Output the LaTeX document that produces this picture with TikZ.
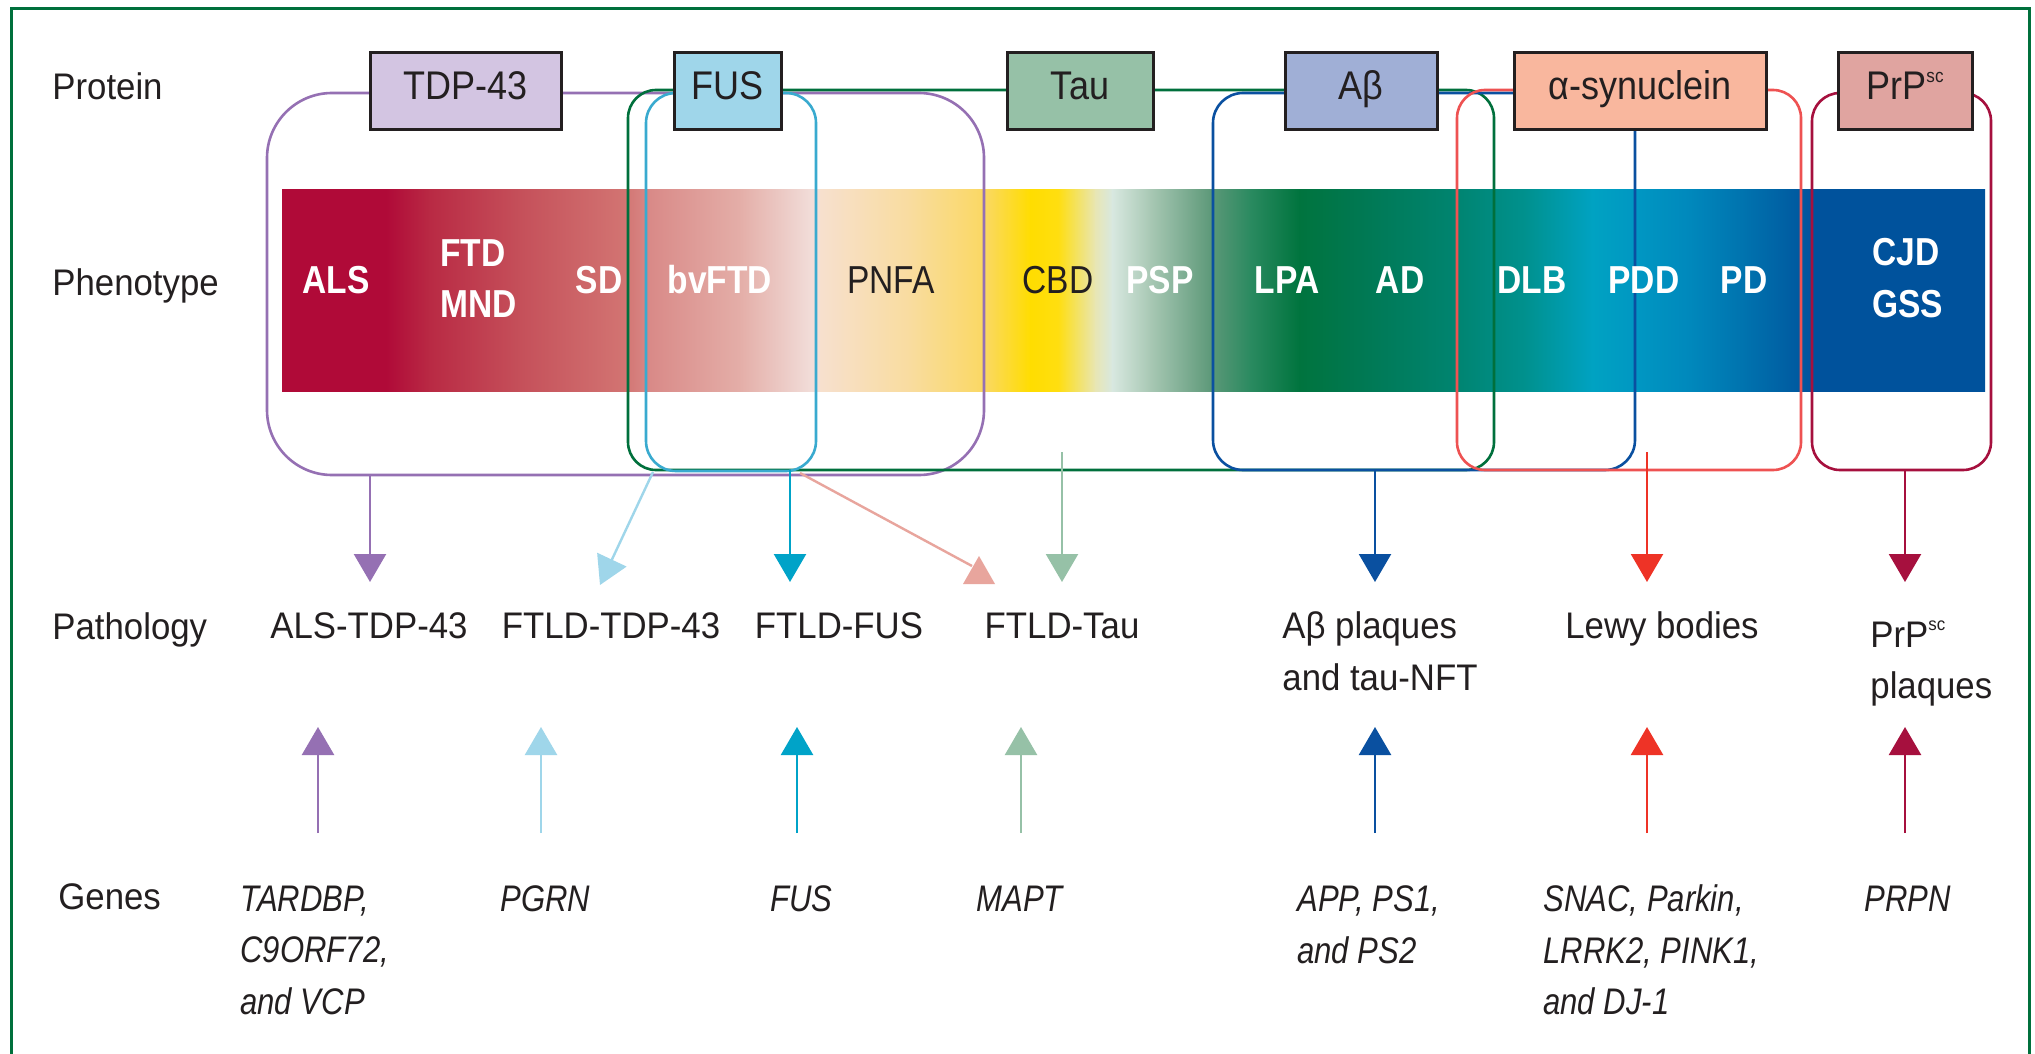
\documentclass[tikz,border=0pt]{standalone}
\usepackage{fontspec}
\setmainfont{Liberation Sans}[FakeStretch=0.94]
\newfontfamily\bandfont{Liberation Sans}[FakeStretch=0.86]
\newfontfamily\boxfont{Liberation Sans}[FakeStretch=0.9]
\newfontfamily\genefont{Liberation Sans}[FakeStretch=0.84]
\usetikzlibrary{arrows.meta}
\definecolor{txt}{HTML}{231F20}
\definecolor{frameg}{HTML}{00703C}
\definecolor{purp}{HTML}{9570B3}
\definecolor{tdpfill}{HTML}{D3C5E2}
\definecolor{fusl}{HTML}{9FD6EA}
\definecolor{fusc}{HTML}{00A3C8}
\definecolor{fusout}{HTML}{39AACF}
\definecolor{greeno}{HTML}{00703C}
\definecolor{taufill}{HTML}{96C1A7}
\definecolor{abfill}{HTML}{A0AFD6}
\definecolor{blueo}{HTML}{0A50A0}
\definecolor{redo}{HTML}{EE5252}
\definecolor{reda}{HTML}{EE3326}
\definecolor{asynfill}{HTML}{F9B79E}
\definecolor{prpfill}{HTML}{E0A4A0}
\definecolor{crim}{HTML}{A6103E}
\definecolor{pinkc}{HTML}{E8A59D}
\tikzset{
  rowlab/.style={anchor=base west, inner sep=0pt, text=txt, font=\fontsize{18.5}{22}\selectfont},
  bandlab/.style={anchor=base, inner sep=0pt, text=white, font=\bandfont\bfseries\fontsize{19.5}{22}\selectfont},
  bandlabw/.style={bandlab, anchor=base west},
  bandlabd/.style={anchor=base, inner sep=0pt, text=txt, font=\bandfont\fontsize{19.5}{22}\selectfont},
  pbox/.style={draw=txt, line width=1.5pt, minimum height=38.5pt, inner sep=0pt,
    text height=8.5pt, text depth=0pt, text=txt, font=\boxfont\fontsize{20}{22}\selectfont},
  grp/.style={line width=1.3pt},
  patho/.style={anchor=base, inner sep=0pt, text=txt, font=\fontsize{18.5}{22}\selectfont},
  pathow/.style={patho, anchor=base west},
  gene/.style={anchor=base west, inner sep=0pt, text=txt, font=\genefont\itshape\fontsize{18.5}{22}\selectfont},
  arr/.style={line width=1.2pt, -{Triangle[length=14pt,width=16pt]}}
}
\begin{document}
\begin{tikzpicture}[x=0.5pt,y=-0.5pt]
\useasboundingbox (0,0) rectangle (2035,1054);
\path[clip] (0,0) rectangle (2035,1054);
\fill[white] (0,0) rectangle (2035,1054);
% outer frame
\draw[frameg, line width=1.5pt] (11.5,8.5) rectangle (2029,1120);

% phenotype band
\foreach \x/\c [remember=\x as \lx (initially 282), remember=\c as \lc (initially B00A38)] in
 {386/B00A38, 430/B92A44, 520/C5505A, 624/D27472, 650/D98A88, 740/E4AEA8, 815/F2E0DC,
  820/F7E0CE, 911/F9DC9E, 985/FAD862, 1030/FFDD00, 1058/FFDE10, 1095/E8E6B4, 1112/D8E8E0,
  1150/A8C8B4, 1211/5C9878, 1250/2A8A60, 1299/00743E, 1360/007852, 1455/008470, 1525/00918E,
  1592/00A2C2, 1640/0096C2, 1690/0088BC, 1745/0072AE, 1798/005AA0, 1815/00529C, 1985/00529C}
 {
  \edef\tmpdef{\noexpand\definecolor{sL}{HTML}{\lc}\noexpand\definecolor{sR}{HTML}{\c}}\tmpdef
  \shade[left color=sL, right color=sR] (\lx,189) rectangle ({min(\x+0.8,1985)},391);
 }

% group outlines
\draw[grp, purp, rounded corners=32.5pt] (267,93) rectangle (984,475);
\draw[grp, greeno, rounded corners=14pt] (628,90) rectangle (1494,470);
\draw[grp, fusout, rounded corners=15pt] (646,93) rectangle (816,471);
\draw[grp, blueo, rounded corners=15pt] (1213,93) rectangle (1635,470);
\draw[grp, redo, rounded corners=14pt] (1457,90) rectangle (1801,470);
\draw[grp, crim, rounded corners=14pt] (1812,93) rectangle (1991,470);

% protein boxes
\node[pbox, fill=tdpfill, minimum width=95.5pt] (tdp) at (465.5,91.5) {TDP-43};
\node[pbox, fill=fusl, minimum width=53.5pt] (fus) at (727.5,91.5) {FUS};
\node[pbox, fill=taufill, minimum width=73pt] (tau) at (1080,91.5) {Tau};
\node[pbox, fill=abfill, minimum width=76pt] (ab) at (1361,91.5) {Aβ};
\node[pbox, fill=asynfill, minimum width=126pt] (asyn) at (1640,91.5) {α-synuclein};
\node[pbox, fill=prpfill, minimum width=67pt] (prp) at (1905,91.5) {PrP\raisebox{9pt}{\fontsize{9.5}{10}\selectfont sc}};

% row labels
\node[rowlab] (lProtein) at (52,100) {Protein};
\node[rowlab] (lPheno) at (52,295) {Phenotype};
\node[rowlab] (lPatho) at (52,639) {Pathology};
\node[rowlab] (lGenes) at (58,909) {Genes};

% phenotype labels
\node[bandlab] (pALS) at (336,293) {ALS};
\node[bandlabw] (pFTD) at (440,266) {FTD};
\node[bandlabw] (pMND) at (440,317) {MND};
\node[bandlab] (pSD) at (599,293) {SD};
\node[bandlab] (pbv) at (720,293) {bvFTD};
\node[bandlabd] (pPNFA) at (891,293) {PNFA};
\node[bandlabd] (pCBD) at (1058,293) {CBD};
\node[bandlab] (pPSP) at (1160,293) {PSP};
\node[bandlab] (pLPA) at (1287,293) {LPA};
\node[bandlab] (pAD) at (1400,293) {AD};
\node[bandlab] (pDLB) at (1532,293) {DLB};
\node[bandlab] (pPDD) at (1644,293) {PDD};
\node[bandlab] (pPD) at (1744,293) {PD};
\node[bandlabw] (pCJD) at (1872,265) {CJD};
\node[bandlabw] (pGSS) at (1872,317) {GSS};

% pathology labels
\node[patho] (tALS) at (369,638) {ALS-TDP-43};
\node[patho] (tFTDP) at (611,638) {FTLD-TDP-43};
\node[patho] (tFFUS) at (839,638) {FTLD-FUS};
\node[patho] (tFTau) at (1062,638) {FTLD-Tau};
\node[pathow] (tAb1) at (1282,638) {Aβ plaques};
\node[pathow] (tAb2) at (1282,690) {and tau-NFT};
\node[patho] (tLewy) at (1662,638) {Lewy bodies};
\node[pathow] (tPrP1) at (1870,647) {PrP\raisebox{8.5pt}{\fontsize{9}{10}\selectfont sc}};
\node[pathow] (tPrP2) at (1870,698) {plaques};

% genes
\node[gene] (gT1) at (240,911) {TARDBP,};
\node[gene] (gT2) at (240,962) {C9ORF72,};
\node[gene] (gT3) at (240,1014) {and VCP};
\node[gene] (gPGRN) at (500,911) {PGRN};
\node[gene] (gFUS) at (770,911) {FUS};
\node[gene] (gMAPT) at (976,911) {MAPT};
\node[gene] (gA1) at (1297,911) {APP, PS1,};
\node[gene] (gA2) at (1297,963) {and PS2};
\node[gene] (gS1) at (1543,911) {SNAC, Parkin,};
\node[gene] (gS2) at (1543,963) {LRRK2, PINK1,};
\node[gene] (gS3) at (1543,1014) {and DJ-1};
\node[gene] (gPRPN) at (1864,911) {PRPN};

% arrow coordinates: protein groups -> pathology
\coordinate (aTDPs) at (370,475);   \coordinate (aTDPe) at (370,582);
\coordinate (aPGs) at (653,472);    \coordinate (aPGe) at (600,585);
\coordinate (aFUSs) at (790,470);   \coordinate (aFUSe) at (790,582);
\coordinate (aPKs) at (800,473);    \coordinate (aPKe) at (972,566);
\coordinate (aTAUs) at (1062,452);  \coordinate (aTAUe) at (1062,582);
\coordinate (aABs) at (1375,470);   \coordinate (aABe) at (1375,582);
\coordinate (aSYs) at (1647,452);   \coordinate (aSYe) at (1647,582);
\coordinate (aPRs) at (1905,470);   \coordinate (aPRe) at (1905,582);

\draw[arr, purp] (aTDPs) -- (aTDPe);
\draw[arr, fusl] (aPGs) -- (aPGe);
\draw[arr, fusc] (aFUSs) -- (aFUSe);
\draw[pinkc, line width=1.2pt] (aPKs) -- (aPKe);
\fill[pinkc] (963,584) -- (995,584) -- (979,556) -- cycle;
\draw[arr, taufill] (aTAUs) -- (aTAUe);
\draw[arr, blueo] (aABs) -- (aABe);
\draw[arr, reda] (aSYs) -- (aSYe);
\draw[arr, crim] (aPRs) -- (aPRe);

% genes -> pathology
\coordinate (bT) at (318,833);    \coordinate (bTe) at (318,727);
\coordinate (bP) at (541,833);    \coordinate (bPe) at (541,727);
\coordinate (bF) at (797,833);    \coordinate (bFe) at (797,727);
\coordinate (bM) at (1021,833);   \coordinate (bMe) at (1021,727);
\coordinate (bA) at (1375,833);   \coordinate (bAe) at (1375,727);
\coordinate (bS) at (1647,833);   \coordinate (bSe) at (1647,727);
\coordinate (bR) at (1905,833);   \coordinate (bRe) at (1905,727);
\draw[arr, purp] (bT) -- (bTe);
\draw[arr, fusl] (bP) -- (bPe);
\draw[arr, fusc] (bF) -- (bFe);
\draw[arr, taufill] (bM) -- (bMe);
\draw[arr, blueo] (bA) -- (bAe);
\draw[arr, reda] (bS) -- (bSe);
\draw[arr, crim] (bR) -- (bRe);
\end{tikzpicture}
\end{document}
